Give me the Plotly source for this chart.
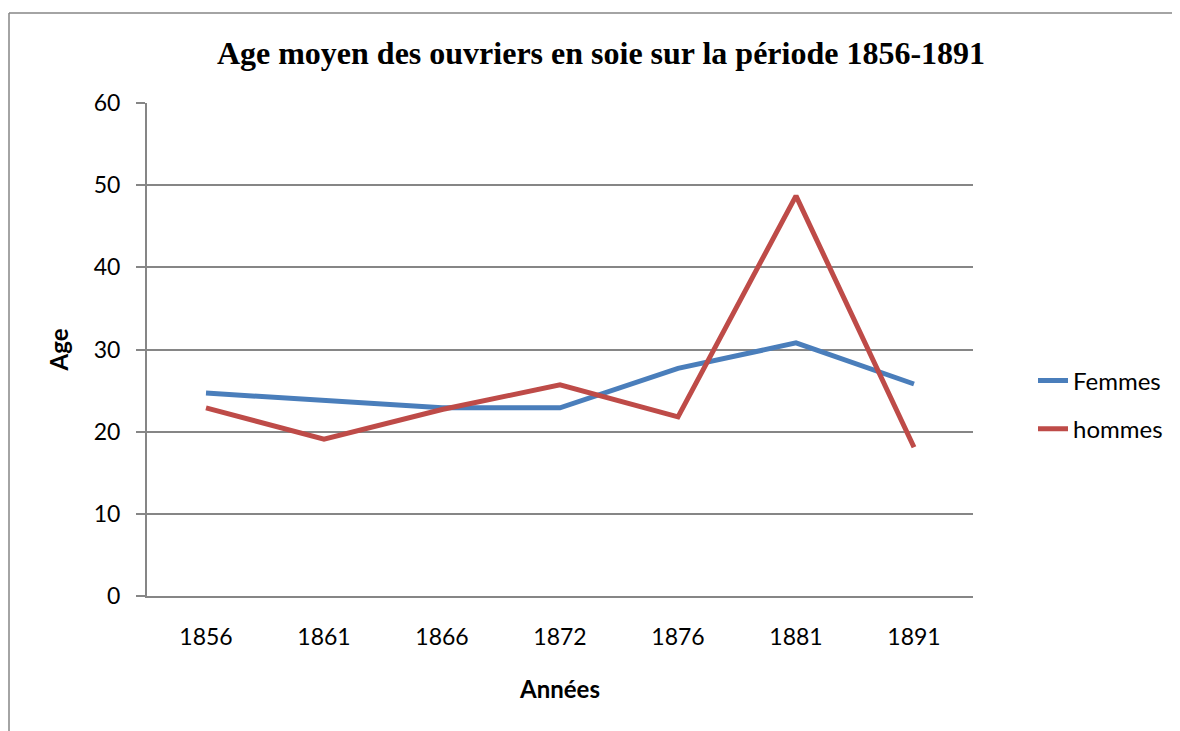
import plotly.graph_objects as go

annees = ["1856", "1861", "1866", "1872", "1876", "1881", "1891"]
femmes = [24.7, 23.8, 22.9, 22.9, 27.7, 30.8, 25.8]
hommes = [22.9, 19.1, 22.7, 25.7, 21.8, 48.7, 18.1]
y_ticks = [0, 10, 20, 30, 40, 50, 60]

W, H = 1180, 731
OFF = 8  # page body margin offset
L, R, T, B = 147, 973, 103, 596  # target screen positions of the plot area

fig = go.Figure()
fig.add_trace(go.Scatter(x=annees, y=femmes, mode="lines", name="Femmes",
                         legendgroup="f",
                         line=dict(color="#4A7EBB", width=5)))
fig.add_trace(go.Scatter(x=annees, y=hommes, mode="lines", name="hommes",
                         legendgroup="h",
                         line=dict(color="#BE4B48", width=5)))

pw, ph = R - L, B - T
def px(x):
    return (x - L) / pw
def py(y):
    return (B - y) / ph

# chart-area border (partially visible, like the reference)
fig.add_shape(type="line", xref="paper", yref="paper",
              x0=px(9), x1=px(1220), y0=py(13), y1=py(13),
              line=dict(color="#868686", width=1.5))
fig.add_shape(type="line", xref="paper", yref="paper",
              x0=px(9), x1=px(9), y0=py(13), y1=py(780),
              line=dict(color="#868686", width=1.5))

fig.update_layout(
    width=W, height=H,
    margin=dict(l=L - OFF, r=W - (R - OFF), t=T - OFF, b=H - (B - OFF)),
    paper_bgcolor="white", plot_bgcolor="white",
    title=dict(text="<b>Age moyen des ouvriers en soie sur la période 1856-1891</b>",
               font=dict(family="Liberation Serif", size=32, color="black"),
               x=(601 - OFF) / W, xanchor="center", xref="container",
               y=1 - (53 - OFF) / H, yanchor="middle", yref="container"),
    font=dict(family="Lato", color="black"),
    showlegend=True,
    legend=dict(x=px(1033), y=py(405), xanchor="left", yanchor="middle",
                font=dict(family="Lato", size=24, color="black"),
                bgcolor="rgba(0,0,0,0)", tracegroupgap=14,
                traceorder="grouped"),
    xaxis=dict(type="category", categoryorder="array", categoryarray=annees,
               range=[-0.5, 6.5], showgrid=False, showline=True,
               linecolor="#868686", linewidth=2, ticks="",
               tickfont=dict(family="Lato", size=23, color="black"),
               ticklabelstandoff=19,
               title=dict(text="<b>Années</b>", standoff=33,
                          font=dict(family="Lato", size=24, color="black"))),
    yaxis=dict(range=[0, 60], tickvals=y_ticks, showgrid=True,
               gridcolor="#868686", gridwidth=1.5, showline=True,
               linecolor="#868686", linewidth=2, ticks="outside",
               ticklen=9, tickcolor="#868686", tickwidth=2,
               zeroline=False,
               tickfont=dict(family="Lato", size=23, color="black"),
               ticklabelstandoff=11,
               title=dict(text="<b>Age</b>", standoff=18,
                          font=dict(family="Lato", size=24, color="black"))),
)

fig.write_html("out.html")
